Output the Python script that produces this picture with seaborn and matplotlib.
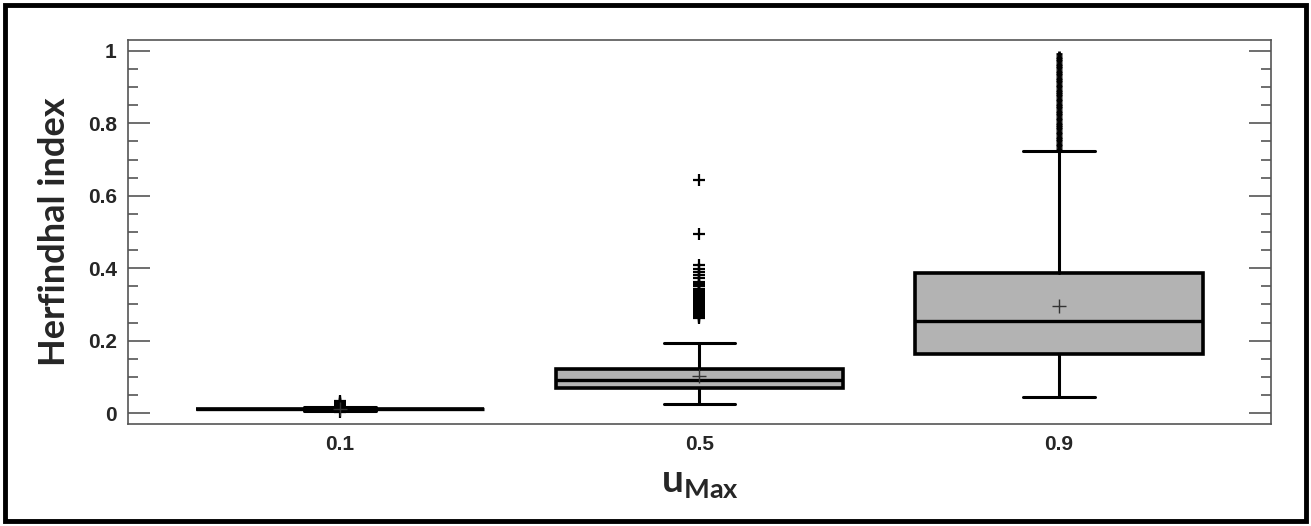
import numpy as np
import matplotlib
matplotlib.use('Agg')
import matplotlib.pyplot as plt
import seaborn as sns
from matplotlib.patches import Rectangle
from matplotlib.ticker import MultipleLocator

# Dati (statistiche dei box plot per ogni u_Max)
groups = ['0.1', '0.5', '0.9']
whisker_low = [0.006, 0.025, 0.044]
quart1 = [0.010, 0.069, 0.163]
medians = [0.011, 0.091, 0.254]
quart3 = [0.012, 0.121, 0.387]
whisker_high = [0.017, 0.193, 0.724]
means = [0.012, 0.102, 0.296]
outliers_01 = [0.002, 0.020, 0.022, 0.024, 0.026, 0.028, 0.030, 0.033]
outliers_05 = [0.262, 0.265, 0.268, 0.271, 0.274, 0.277, 0.280, 0.283, 0.286,
               0.290, 0.294, 0.298, 0.302, 0.306, 0.310, 0.314, 0.318, 0.322,
               0.327, 0.332, 0.338, 0.343, 0.350, 0.356, 0.363, 0.372, 0.381,
               0.390, 0.398, 0.408, 0.494, 0.644]
outliers_09 = [0.730, 0.737, 0.744, 0.750, 0.757, 0.763, 0.770, 0.776, 0.783,
               0.789, 0.796, 0.802, 0.809, 0.815, 0.822, 0.828, 0.835, 0.841,
               0.848, 0.854, 0.861, 0.867, 0.874, 0.880, 0.887, 0.893, 0.900,
               0.906, 0.913, 0.919, 0.926, 0.932, 0.939, 0.945, 0.952, 0.958,
               0.965, 0.971, 0.978, 0.984, 0.990]
outliers = [outliers_01, outliers_05, outliers_09]
ytick_vals = [0, 0.2, 0.4, 0.6, 0.8, 1.0]
ytick_labels = ['0', '0.2', '0.4', '0.6', '0.8', '1']

sns.set_style('white')
plt.rcParams['font.family'] = ['Liberation Sans', 'DejaVu Sans']
plt.rcParams['mathtext.fontset'] = 'custom'
plt.rcParams['mathtext.rm'] = 'Lato'
plt.rcParams['mathtext.bf'] = 'Lato:bold'

fig = plt.figure(figsize=(13.11, 5.26), dpi=100)
ax = fig.add_axes([0.0976, 0.194, 0.8719, 0.730])

stats = []
for i in range(len(groups)):
    stats.append({
        'label': groups[i],
        'whislo': whisker_low[i],
        'q1': quart1[i],
        'med': medians[i],
        'q3': quart3[i],
        'whishi': whisker_high[i],
        'mean': means[i],
        'fliers': outliers[i],
    })

bp = ax.bxp(stats, positions=range(len(groups)), widths=0.8, patch_artist=True,
            showmeans=True, showfliers=True,
            boxprops=dict(facecolor='#b3b3b3', edgecolor='black', linewidth=2.6),
            medianprops=dict(color='black', linewidth=2.4),
            whiskerprops=dict(color='black', linewidth=2.2),
            capprops=dict(color='black', linewidth=2.2),
            capwidths=0.2,
            meanprops=dict(marker='+', markeredgecolor='#333333', markersize=10,
                           markeredgewidth=1.0),
            flierprops=dict(marker='+', markeredgecolor='black', markersize=9,
                            markeredgewidth=1.6))
# nel gruppo 0.9 gli outlier formano una colonna stretta
bp['fliers'][2].set_markersize(4)
bp['fliers'][2].set_markeredgewidth(2.0)

ax.set_xlim(-0.59, 2.59)
ax.set_ylim(-0.03, 1.03)
ax.set_yticks(ytick_vals)
ax.set_yticklabels(ytick_labels)
ax.yaxis.set_minor_locator(MultipleLocator(0.05))
ax.tick_params(axis='y', which='major', direction='in', length=16, width=1.2,
               color='#555555', left=True, right=True, labelsize=15, pad=8)
ax.tick_params(axis='y', which='minor', direction='in', length=7, width=1.2,
               color='#555555', left=True, right=True)
ax.tick_params(axis='x', length=0, labelsize=15, pad=8)
for lab in ax.get_xticklabels() + ax.get_yticklabels():
    lab.set_fontweight('bold')

for sp in ax.spines.values():
    sp.set_color('#555555')
    sp.set_linewidth(1.2)

ax.set_ylabel('Herfindhal index', fontsize=26, fontweight='bold',
              family=['Lato', 'DejaVu Sans'], labelpad=12)
ax.set_xlabel(r'$\mathbf{u}_{\mathbf{Max}}$', fontsize=28, labelpad=8)

# cornice esterna
fig.patches.append(Rectangle((5 / 1311, 5 / 526), 1301 / 1311, 516 / 526,
                             transform=fig.transFigure, fill=False,
                             edgecolor='black', linewidth=3.5))

fig.savefig('out.png', dpi=100)
